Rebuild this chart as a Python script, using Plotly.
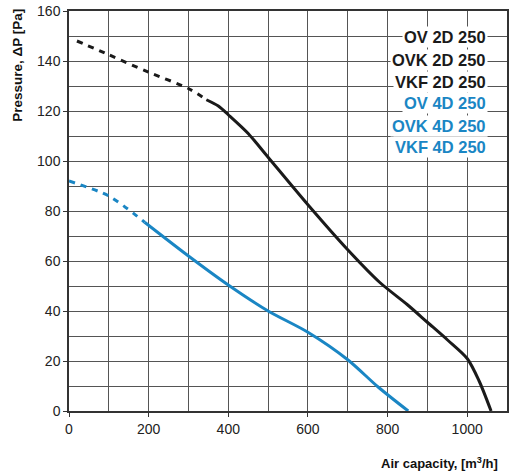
import plotly.graph_objects as go

# Black curve (2D 250)
black_dash_x = [20, 100, 200, 300, 345]
black_dash_y = [148, 142.5, 135.5, 129, 124.5]
black_solid_x = [345, 375, 400, 450, 500, 600, 700, 780, 850, 900, 950, 1000, 1030, 1060]
black_solid_y = [124.5, 122, 118.5, 111, 101.5, 82.5, 64.5, 51.5, 42.5, 35.5, 28.5, 21, 12, 0]

# Blue curve (4D 250)
blue_dash_x = [0, 100, 190]
blue_dash_y = [92, 86, 75.5]
blue_solid_x = [190, 300, 400, 500, 600, 700, 777, 852]
blue_solid_y = [75.5, 62, 50.4, 40, 31.5, 20.5, 9.5, 0]

legend_black = ["OV 2D 250", "OVK 2D 250", "VKF 2D 250"]
legend_blue = ["OV 4D 250", "OVK 4D 250", "VKF 4D 250"]

x_ticks = [0, 200, 400, 600, 800, 1000]
y_ticks = [0, 20, 40, 60, 80, 100, 120, 140, 160]

BLACK = "#1a1a1a"
BLUE = "#1a86c4"

fig = go.Figure()
fig.add_trace(go.Scatter(x=black_dash_x, y=black_dash_y, mode="lines",
                         line=dict(color=BLACK, width=3, dash="6px,6px", shape="spline", smoothing=0.8),
                         showlegend=False))
fig.add_trace(go.Scatter(x=black_solid_x, y=black_solid_y, mode="lines",
                         line=dict(color=BLACK, width=3, shape="spline", smoothing=0.8), showlegend=False))
fig.add_trace(go.Scatter(x=blue_dash_x, y=blue_dash_y, mode="lines",
                         line=dict(color=BLUE, width=3, dash="6px,6px", shape="spline", smoothing=0.8),
                         showlegend=False))
fig.add_trace(go.Scatter(x=blue_solid_x, y=blue_solid_y, mode="lines",
                         line=dict(color=BLUE, width=3, shape="spline", smoothing=0.8), showlegend=False))

ys = [0.935, 0.8775, 0.8225, 0.77, 0.7125, 0.66]
labels = legend_black + legend_blue
colors = [BLACK] * 3 + [BLUE] * 3
for t, yy, c in zip(labels, ys, colors):
    fig.add_annotation(text=t, xref="paper", yref="paper", x=0.956, y=yy,
                       xanchor="right", yanchor="middle", showarrow=False,
                       font=dict(family="Liberation Sans", size=16.5, color=c, weight="bold"),
                       bgcolor="white", borderpad=1)

fig.add_annotation(text="Air capacity, [m<sup>3</sup>/h]", xref="paper", yref="paper",
                   x=0.984, y=-0.13, xanchor="right", yanchor="middle", showarrow=False,
                   font=dict(family="Liberation Sans", size=13, color="#111", weight="bold"))
fig.add_annotation(text="Pressure, ΔP [Pa]", xref="paper", yref="paper",
                   x=-0.118, y=1.01, xanchor="center", yanchor="top", textangle=-90,
                   showarrow=False,
                   font=dict(family="Liberation Sans", size=13.5, color="#111", weight="bold"))

axis_common = dict(showline=True, linecolor="#333", linewidth=1.5, mirror=True,
                   gridcolor="#555", gridwidth=1, zeroline=False,
                   ticks="outside", ticklen=4, tickcolor="#333",
                   ticklabeloverflow="allow",
                   tickfont=dict(family="Liberation Sans", size=14, color="#222"))

fig.update_xaxes(range=[0, 1100], tickvals=x_ticks,
                 minor=dict(dtick=100, showgrid=True, gridcolor="#555", gridwidth=1),
                 **axis_common)
fig.update_yaxes(range=[0, 160], tickvals=y_ticks,
                 minor=dict(dtick=10, showgrid=True, gridcolor="#555", gridwidth=1),
                 **axis_common)

fig.update_layout(width=524, height=475,
                  margin=dict(l=69, r=17, t=11, b=64, autoexpand=False),
                  plot_bgcolor="white", paper_bgcolor="white")

# remove the default page margin so the figure fills the window exactly
fig.write_html("out.html", config={"displayModeBar": False},
               post_script="document.body.style.margin='0';")
